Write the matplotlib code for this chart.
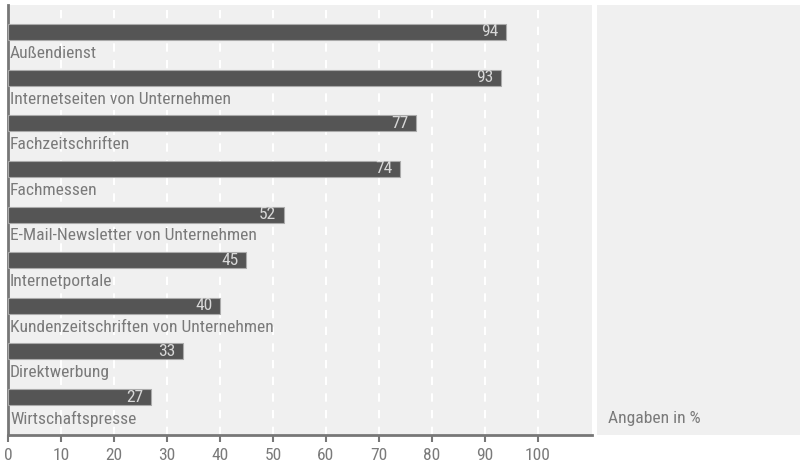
import matplotlib
matplotlib.use("Agg")
import matplotlib.pyplot as plt
from matplotlib import font_manager

categories = ["Außendienst", "Internetseiten von Unternehmen", "Fachzeitschriften",
              "Fachmessen", "E-Mail-Newsletter von Unternehmen", "Internetportale",
              "Kundenzeitschriften von Unternehmen", "Direktwerbung", "Wirtschaftspresse"]
values = [94, 93, 77, 74, 52, 45, 40, 33, 27]
xticks = [0, 10, 20, 30, 40, 50, 60, 70, 80, 90, 100]
note = "Angaben in %"

names = {f.name for f in font_manager.fontManager.ttflist}
fam = ["Roboto Condensed", "Liberation Sans Narrow", "Roboto", "DejaVu Sans"]
fam = [f for f in fam if f in names] or ["DejaVu Sans"]
plt.rcParams['font.family'] = fam
fs = 12.6 if fam[0] in ("Roboto Condensed", "Liberation Sans Narrow") else 11

W, H = 800, 465
fig = plt.figure(figsize=(8, 4.65), dpi=100)
bg = "#f0f0f0"
txt = "#7a7a7a"

def rect(x0, y0, x1, y1):
    return [x0 / W, 1 - y1 / H, (x1 - x0) / W, (y1 - y0) / H]

ax = fig.add_axes(rect(8, 5, 592, 435))
ax.set_facecolor(bg)
n = len(categories)
ypos = list(range(n))
ax.barh(ypos, values, height=0.35, color="#555555", edgecolor="#aaaaaa", linewidth=0.8, zorder=3)
for y, v, c in zip(ypos, values, categories):
    ax.text(v - 1.4, y, str(v), ha="right", va="center", color="#d8d8d8", fontsize=fs, zorder=4)
    ax.text(0.4, y + 0.47, c, ha="left", va="center", color=txt, fontsize=fs, zorder=4)
ax.set_xlim(0, 110.2)
ax.set_ylim(n - 1 + 0.83, -0.59)
ax.set_xticks(xticks)
ax.set_xticklabels([str(t) for t in xticks], color=txt, fontsize=fs)
ax.set_yticks([])
for t in xticks[1:]:
    ax.axvline(t, color="white", lw=1.5, ls=(0, (4, 4)), zorder=1)
for s in ["top", "right"]:
    ax.spines[s].set_visible(False)
ax.spines["left"].set_color("#777777")
ax.spines["left"].set_linewidth(2)
ax.spines["bottom"].set_color("#777777")
ax.spines["bottom"].set_linewidth(2)
ax.tick_params(axis="x", length=5, width=1.5, color="#777777", pad=4)

ax2 = fig.add_axes(rect(597, 5, 800, 435))
ax2.set_facecolor(bg)
ax2.set_xticks([]); ax2.set_yticks([])
for s in ax2.spines.values():
    s.set_visible(False)
ax2.text(11 / 203, 1 - (418 - 5) / 430, note, transform=ax2.transAxes, ha="left", va="center", color=txt, fontsize=fs)

fig.savefig("out.png", dpi=100, facecolor="white")
